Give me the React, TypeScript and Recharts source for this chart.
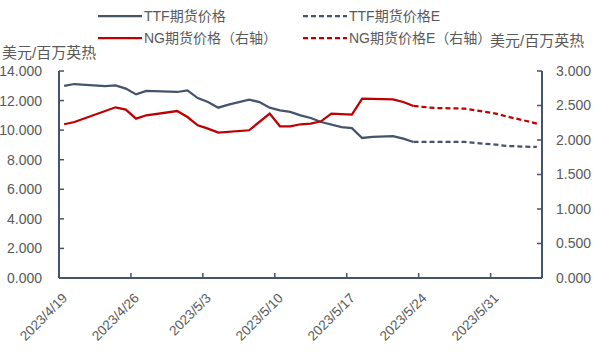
import React from 'react';
import { LineChart, Line, XAxis, YAxis } from 'recharts';

// day index counted from 2023/4/19
const ttfDays = [0, 1, 4, 5, 6, 7, 8, 11, 12, 13, 14, 15, 16, 18, 19, 20, 21, 22, 23, 24, 25, 27, 28, 29, 30, 32, 33, 34];
const ttfValues = [12.99, 13.12, 12.97, 13.03, 12.81, 12.42, 12.65, 12.58, 12.69, 12.17, 11.9, 11.52, 11.73, 12.07, 11.9, 11.52, 11.34, 11.23, 11.0, 10.82, 10.55, 10.21, 10.14, 9.47, 9.54, 9.6, 9.43, 9.2];

const ttfEDays = [34, 39, 40, 42, 43, 46];
const ttfEValues = [9.2, 9.2, 9.13, 9.02, 8.93, 8.86];

const ngDays = [0, 1, 5, 6, 7, 8, 11, 12, 13, 14, 15, 18, 20, 21, 22, 23, 24, 25, 26, 28, 29, 32, 33, 34];
const ngValues = [2.228, 2.261, 2.474, 2.441, 2.31, 2.358, 2.42, 2.333, 2.213, 2.165, 2.107, 2.141, 2.383, 2.199, 2.199, 2.228, 2.238, 2.271, 2.383, 2.368, 2.6, 2.59, 2.551, 2.493];

const ngEDays = [34, 36, 39, 40, 42, 43, 45, 46];
const ngEValues = [2.493, 2.464, 2.455, 2.43, 2.383, 2.343, 2.275, 2.238];

const xTickPositions = [-0.5, 6.5, 13.5, 20.5, 27.5, 34.5, 41.5];
const xTickLabels = ['2023/4/19', '2023/4/26', '2023/5/3', '2023/5/10', '2023/5/17', '2023/5/24', '2023/5/31'];
const leftTicks = [0, 2, 4, 6, 8, 10, 12, 14];
const rightTicks = [0, 0.5, 1, 1.5, 2, 2.5, 3];

const seriesNames = ['TTF期货价格', 'TTF期货价格E', 'NG期货价格（右轴）', 'NG期货价格E（右轴）'];
const axisTitle = '美元/百万英热';

const BLUE = '#44546A';
const RED = '#C00000';
const TEXT = '#595959';
const FONT = '"Liberation Sans", "Noto Sans CJK SC", sans-serif';

function buildTable() {
  const map = new Map<number, any>();
  const add = (days: number[], vals: number[], key: string) => {
    days.forEach((d, i) => {
      if (!map.has(d)) map.set(d, { d });
      map.get(d)[key] = vals[i];
    });
  };
  add(ttfDays, ttfValues, 'ttf');
  add(ttfEDays, ttfEValues, 'ttfE');
  add(ngDays, ngValues, 'ng');
  add(ngEDays, ngEValues, 'ngE');
  return Array.from(map.values()).sort((a, b) => a.d - b.d);
}

const data = buildTable();

const XTick = (props: any) => {
  const { x, y, index } = props;
  const ax = x + 9;
  const ay = y;
  return (
    <text
      x={ax}
      y={ay}
      textAnchor="end"
      fill={TEXT}
      fontSize={13.5}
      fontFamily={FONT}
      transform={`rotate(-45, ${ax}, ${ay})`}
    >
      {xTickLabels[index]}
    </text>
  );
};

const LegendItem = ({ color, dashed, label, left, top }: any) => (
  <div style={{ position: 'absolute', left, top, height: 20, display: 'flex', alignItems: 'center' }}>
    <svg width={46} height={20} style={{ display: 'block' }}>
      <line
        x1={0}
        y1={10}
        x2={44}
        y2={10}
        stroke={color}
        strokeWidth={2.25}
        strokeDasharray={dashed ? '5 3' : undefined}
      />
    </svg>
    <span style={{ fontSize: 14, color: TEXT, fontFamily: FONT, whiteSpace: 'nowrap', lineHeight: '20px' }}>{label}</span>
  </div>
);

export default function App() {
  return (
    <div style={{ position: 'absolute', left: 0, top: 0, width: 594, height: 357, background: '#fff', fontFamily: FONT }}>
      <LineChart width={594} height={357} data={data} margin={{ top: 71, right: 0, bottom: 0, left: 0 }}>
        <XAxis
          dataKey="d"
          type="number"
          domain={[-0.5, 46.5]}
          ticks={xTickPositions}
          interval={0}
          height={79}
          axisLine={{ stroke: BLUE, strokeWidth: 2 }}
          tickLine={{ stroke: BLUE, strokeWidth: 1.5 }}
          tickSize={-5}
          tickMargin={26}
          tick={<XTick />}
          allowDataOverflow
        />
        <YAxis
          yAxisId="left"
          orientation="left"
          width={59}
          domain={[0, 14]}
          ticks={leftTicks}
          interval={0}
          tickFormatter={(v: number) => v.toFixed(3)}
          axisLine={{ stroke: BLUE, strokeWidth: 2 }}
          tickLine={{ stroke: BLUE, strokeWidth: 1.5 }}
          tickSize={-5}
          tickMargin={22}
          tick={{ fill: TEXT, fontSize: 14, fontFamily: FONT }}
        />
        <YAxis
          yAxisId="right"
          orientation="right"
          width={52}
          domain={[0, 3]}
          ticks={rightTicks}
          interval={0}
          tickFormatter={(v: number) => v.toFixed(3)}
          axisLine={{ stroke: BLUE, strokeWidth: 2 }}
          tickLine={{ stroke: BLUE, strokeWidth: 1.5 }}
          tickSize={-5}
          tickMargin={19}
          tick={{ fill: TEXT, fontSize: 14, fontFamily: FONT }}
        />
        <Line yAxisId="left" dataKey="ttf" stroke={BLUE} strokeWidth={2.25} dot={false} connectNulls isAnimationActive={false} />
        <Line yAxisId="left" dataKey="ttfE" stroke={BLUE} strokeWidth={2.25} strokeDasharray="5 3" dot={false} connectNulls isAnimationActive={false} />
        <Line yAxisId="right" dataKey="ng" stroke={RED} strokeWidth={2.25} dot={false} connectNulls isAnimationActive={false} />
        <Line yAxisId="right" dataKey="ngE" stroke={RED} strokeWidth={2.25} strokeDasharray="5 3" dot={false} connectNulls isAnimationActive={false} />
      </LineChart>

      <LegendItem color={BLUE} label={seriesNames[0]} left={98} top={6} />
      <LegendItem color={BLUE} dashed label={seriesNames[1]} left={303} top={6} />
      <LegendItem color={RED} label={seriesNames[2]} left={98} top={28} />
      <LegendItem color={RED} dashed label={seriesNames[3]} left={303} top={28} />

      <div style={{ position: 'absolute', left: 2, top: 43, fontSize: 15, color: TEXT, whiteSpace: 'nowrap', lineHeight: '20px' }}>{axisTitle}</div>
      <div style={{ position: 'absolute', left: 490, top: 31, fontSize: 15, color: TEXT, whiteSpace: 'nowrap', lineHeight: '20px' }}>{axisTitle}</div>
    </div>
  );
}
